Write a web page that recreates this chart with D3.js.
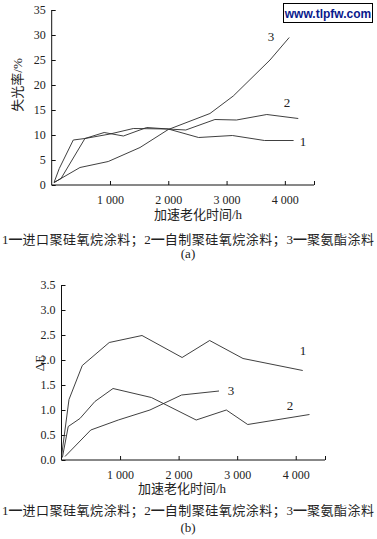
<!DOCTYPE html>
<html>
<head>
<meta charset="utf-8">
<script src="https://cdn.jsdelivr.net/npm/d3@7"></script>
<style>
  body { margin: 0; background: #fff; }
  svg { display: block; }
  .tick text { font-family: "Liberation Serif", "DejaVu Serif", serif; font-size: 12px; fill: #222; }
  .cn { font-family: "Liberation Serif", "Noto Sans CJK SC", serif; fill: #222; }
</style>
</head>
<body>
<svg id="chart" width="377" height="539"></svg>
<script>
document.addEventListener("DOMContentLoaded", function() {

    // Data - (a) 失光率 vs time
    const lossImported = [[40,0.5],[160,1.3],[570,9.3],[900,10.5],[1230,9.8],[1630,11.5],[2000,11.2],[2520,9.5],[3100,9.9],[3650,8.9],[4150,8.9]];
    const lossHomemade = [[40,0.5],[130,3.3],[370,9.0],[570,9.3],[1000,10.2],[1400,11.3],[2000,11.2],[2300,11.0],[2800,13.1],[3170,13.0],[3690,14.1],[4230,13.3]];
    const lossPU = [[40,0.5],[485,3.5],[970,4.7],[1515,7.5],[2000,11.1],[2715,14.3],[3115,17.8],[3745,25.0],[4075,29.5]];

    // Data - (b) ΔE vs time
    const deImported = [[0,0.07],[128,1.21],[355,1.89],[815,2.35],[1375,2.49],[2060,2.05],[2530,2.39],[3100,2.03],[4120,1.79]];
    const deHomemade = [[15,0.05],[115,0.67],[315,0.83],[570,1.17],[880,1.43],[1535,1.25],[2300,0.8],[2815,1.0],[3180,0.71],[4235,0.91]];
    const dePU = [[60,0.07],[500,0.6],[970,0.8],[1510,1.0],[2050,1.3],[2690,1.38]];

    const xTicks = [1000, 2000, 3000, 4000, 4500];
    const yTicksA = [0, 5, 10, 15, 20, 25, 30, 35];
    const yTicksB = [0, 0.5, 1.0, 1.5, 2.0, 2.5, 3.0, 3.5];
    const legendText = "1━进口聚硅氧烷涂料；2━自制聚硅氧烷涂料；3━聚氨酯涂料";

    const svg = d3.select("#chart");
    const fmtX = d => d === 4500 ? "" : d3.format(",")(d).replace(",", " ");

    function panel(opt) {
        const x = d3.scaleLinear().domain([0, 4500]).range([opt.left, opt.right]);
        const y = d3.scaleLinear().domain([0, opt.ymax]).range([opt.bottom, opt.top]);

        svg.append("g")
            .attr("transform", `translate(0,${opt.bottom})`)
            .call(d3.axisBottom(x).tickValues(xTicks).tickSize(-4).tickPadding(10).tickFormat(fmtX))
            .call(g => g.select(".domain").attr("d", `M${opt.left},0H${opt.right}`));

        svg.append("g")
            .attr("transform", `translate(${opt.left},0)`)
            .call(d3.axisLeft(y).tickValues(opt.yTicks).tickSize(-4).tickPadding(6).tickFormat(opt.yFmt))
            .call(g => g.select(".domain").attr("d", `M0,${opt.bottom}V${opt.top}`));

        svg.selectAll(".domain, .tick line").attr("stroke", "#111");

        const line = d3.line().x(d => x(d[0])).y(d => y(d[1]));
        opt.series.forEach(s => {
            svg.append("path")
                .datum(s)
                .attr("d", line)
                .attr("fill", "none")
                .attr("stroke", "#2a2a2a")
                .attr("stroke-width", 0.9);
        });

        opt.labels.forEach(l => {
            svg.append("text")
                .attr("class", "cn")
                .attr("x", l[0]).attr("y", l[1])
                .attr("text-anchor", "middle")
                .style("font-size", "13px")
                .text(l[2]);
        });

        svg.append("text")
            .attr("class", "cn")
            .attr("x", opt.xLabelX).attr("y", opt.xLabelY)
            .attr("text-anchor", "middle")
            .style("font-size", "13px")
            .text("加速老化时间/h");

        svg.append("text")
            .attr("class", "cn")
            .attr("x", 2).attr("y", opt.legendY)
            .attr("textLength", 372)
            .attr("lengthAdjust", "spacing")
            .style("font-size", "13px")
            .text(legendText);

        svg.append("text")
            .attr("class", "cn")
            .attr("x", opt.capX).attr("y", opt.capY)
            .attr("text-anchor", "middle")
            .style("font-size", "13px")
            .text(opt.caption);
    }

    panel({
        left: 51.7, right: 314, top: 10, bottom: 185, ymax: 35,
        yTicks: yTicksA, yFmt: d3.format("d"),
        series: [lossImported, lossHomemade, lossPU],
        labels: [[303, 146, "1"], [287, 107, "2"], [271, 41, "3"]],
        xLabelX: 198, xLabelY: 219, legendY: 244, capX: 188, capY: 258, caption: "(a)"
    });

    svg.append("text")
        .attr("class", "cn")
        .attr("transform", "translate(22,85) rotate(-90)")
        .attr("text-anchor", "middle")
        .style("font-size", "13px")
        .text("失光率/%");

    panel({
        left: 61.5, right: 325, top: 285, bottom: 460, ymax: 3.5,
        yTicks: yTicksB, yFmt: d3.format(".1f"),
        series: [deImported, deHomemade, dePU],
        labels: [[303, 355, "1"], [290, 410, "2"], [231, 395, "3"]],
        xLabelX: 182, xLabelY: 493, legendY: 515, capX: 188, capY: 532, caption: "(b)"
    });

    svg.append("text")
        .attr("class", "cn")
        .attr("transform", "translate(44,363) rotate(-90)")
        .attr("text-anchor", "middle")
        .style("font-size", "13px")
        .text("ΔE");

    // watermark box
    svg.append("rect")
        .attr("x", 283.5).attr("y", 3.5).attr("width", 89).attr("height", 19)
        .attr("fill", "#fff").attr("stroke", "#000").attr("stroke-width", 1);
    svg.append("text")
        .attr("x", 328).attr("y", 17.5)
        .attr("text-anchor", "middle")
        .style("font-family", "'Liberation Sans', Arial, sans-serif")
        .style("font-weight", "bold")
        .style("font-size", "12px")
        .attr("fill", "#0a1a8c")
        .text("www.tlpfw.com");
});
</script>
</body>
</html>
